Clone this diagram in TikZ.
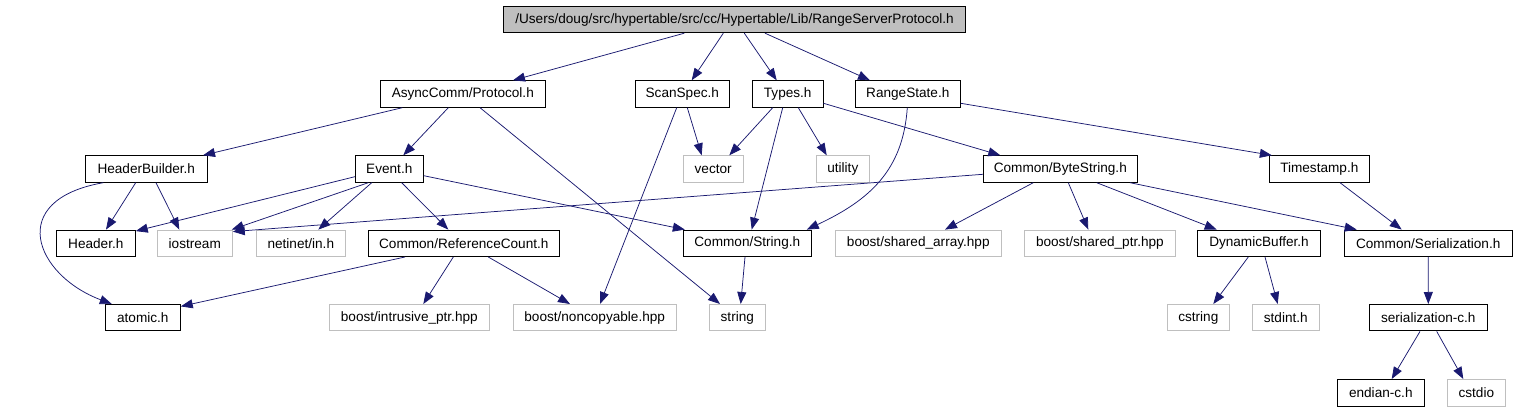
\documentclass[tikz,border=0pt]{standalone}
\usepackage{fontspec}
\setmainfont{Liberation Sans}
\usetikzlibrary{arrows.meta}
\definecolor{edgeblue}{RGB}{25,25,112}
\definecolor{sysgrey}{RGB}{191,191,191}
\tikzset{
  box/.style={draw=black, line width=0.9pt, minimum height=26.5pt, inner sep=0pt,
    font=\fontsize{13.6}{15}\selectfont},
  sys/.style={box, draw=sysgrey},
  rootbox/.style={box, fill=sysgrey},
  e/.style={draw=edgeblue, line width=0.75pt, -{Triangle[length=12pt,width=9pt]}}
}
\begin{document}
\begin{tikzpicture}[x=1pt,y=-1pt]
\useasboundingbox (0,0) rectangle (1517,411);
% row 1
\node[rootbox, minimum width=462.4pt] (root) at (734.5,19.5) {/Users/doug/src/hypertable/src/cc/Hypertable/Lib/RangeServerProtocol.h};
% row 2
\node[box, minimum width=165pt] (async) at (462.8,94) {AsyncComm/Protocol.h};
\node[box, minimum width=94pt] (scanspec) at (682.3,94) {ScanSpec.h};
\node[box, minimum width=70.7pt] (types) at (787.7,94) {Types.h};
\node[box, minimum width=105pt] (rangestate) at (907.8,94) {RangeState.h};
% row 3
\node[box, minimum width=122pt] (hb) at (146.3,169) {HeaderBuilder.h};
\node[box, minimum width=68pt] (event) at (389.3,169) {Event.h};
\node[sys, minimum width=60.3pt] (vector) at (713.2,169) {vector};
\node[sys, minimum width=53pt] (utility) at (842.8,169) {utility};
\node[box, minimum width=154pt] (bytestring) at (1060.3,169) {Common/ByteString.h};
\node[box, minimum width=100pt] (timestamp) at (1319.3,169) {Timestamp.h};
% row 4
\node[box, minimum width=79pt] (header) at (95.8,243.3) {Header.h};
\node[sys, minimum width=75pt] (iostream) at (194.8,243.3) {iostream};
\node[sys, minimum width=89pt] (netinet) at (300.8,243.3) {netinet/in.h};
\node[box, minimum width=191pt] (refcount) at (463.8,243.3) {Common/ReferenceCount.h};
\node[box, minimum width=128pt] (cstr) at (747.3,243.3) {Common/String.h};
\node[sys, minimum width=166pt] (sharedarray) at (918.3,243.3) {boost/shared\_array.hpp};
\node[sys, minimum width=151.7pt] (sharedptr) at (1099.9,243.3) {boost/shared\_ptr.hpp};
\node[box, minimum width=123.4pt] (dynbuf) at (1259,243.3) {DynamicBuffer.h};
\node[box, minimum width=168.3pt] (serial) at (1428.2,243.3) {Common/Serialization.h};
% row 5
\node[box, minimum width=75pt] (atomic) at (142.8,317.7) {atomic.h};
\node[sys, minimum width=160pt] (intrusive) at (409.3,317.7) {boost/intrusive\_ptr.hpp};
\node[sys, minimum width=162.7pt] (noncopy) at (594.7,317.7) {boost/noncopyable.hpp};
\node[sys, minimum width=56pt] (string) at (737.3,317.7) {string};
\node[sys, minimum width=62pt] (cstring) at (1198.3,317.7) {cstring};
\node[sys, minimum width=67pt] (stdint) at (1285.8,317.7) {stdint.h};
\node[box, minimum width=118pt] (serialc) at (1428.3,317.7) {serialization-c.h};
% row 6
\node[box, minimum width=87pt] (endian) at (1380.8,392.7) {endian-c.h};
\node[sys, minimum width=58pt] (cstdio) at (1476.3,392.7) {cstdio};

% edges from root
\draw[e] ([xshift=-50.2pt]root.south) -- ([xshift=50.2pt]async.north);
\draw[e] ([xshift=-11.2pt]root.south) -- ([xshift=9.4pt]scanspec.north);
\draw[e] ([xshift=9.8pt]root.south) -- ([xshift=-11pt]types.north);
\draw[e] ([xshift=30.5pt]root.south) -- ([xshift=-37.8pt]rangestate.north);
% AsyncComm/Protocol.h
\draw[e] ([xshift=-60.5pt]async.south) -- ([xshift=56.7pt]hb.north);
\draw[e] ([xshift=-14.5pt]async.south) -- ([xshift=14pt]event.north);
\draw[e] ([xshift=17.2pt]async.south) -- ([xshift=-17.3pt]string.north);
% ScanSpec.h
\draw[e] ([xshift=5pt]scanspec.south) -- ([xshift=-11.5pt]vector.north);
\draw[e] ([xshift=-5.6pt]scanspec.south) -- ([xshift=5.3pt]noncopy.north);
% Types.h
\draw[e] ([xshift=-15pt]types.south) -- ([xshift=16.1pt]vector.north);
\draw[e] ([xshift=-5pt]types.south) -- ([xshift=4.4pt]cstr.north);
\draw[e] ([xshift=10.6pt]types.south) -- ([xshift=-16.1pt]utility.north);
\draw[e] ([yshift=-9.3pt]types.east) -- ([xshift=-60pt]bytestring.north);
% RangeState.h
\draw[e] ([xshift=-0.5pt]rangestate.south) .. controls (903,170) and (870,200) .. ([xshift=-5pt]cstr.north east);
\draw[e] ([yshift=-9.3pt]rangestate.east) -- ([xshift=3pt]timestamp.north west);
% HeaderBuilder.h
\draw[e] ([xshift=-10.6pt]hb.south) -- ([xshift=10.2pt]header.north);
\draw[e] ([xshift=9.7pt]hb.south) -- ([xshift=-15.5pt]iostream.north);
\draw[e] ([xshift=-43pt]hb.south) .. controls (5,200) and (35,275) .. ([xshift=-31pt]atomic.north);
% Event.h
\draw[e] ([yshift=-7.7pt]event.west) -- ([yshift=-1.5pt]header.north east);
\draw[e] ([xshift=-21pt]event.south) -- ([xshift=-1pt]iostream.north east);
\draw[e] ([xshift=-17.6pt]event.south) -- ([xshift=17.5pt]netinet.north);
\draw[e] ([xshift=12.4pt]event.south) -- ([xshift=-15.5pt]refcount.north);
\draw[e] ([yshift=-6.7pt]event.east) -- ([xshift=2pt]cstr.north west);
% Common/ByteString.h
\draw[e] ([yshift=-5.3pt]bytestring.west) -- ([yshift=-2pt]iostream.north east);
\draw[e] ([xshift=-27pt]bytestring.south) -- ([xshift=26.7pt]sharedarray.north);
\draw[e] ([xshift=8pt]bytestring.south) -- ([xshift=-11.6pt]sharedptr.north);
\draw[e] ([xshift=36.4pt]bytestring.south) -- ([xshift=-42.3pt]dynbuf.north);
\draw[e] ([xshift=69.7pt]bytestring.south) -- ([xshift=-71.5pt]serial.north);
% Timestamp.h
\draw[e] ([xshift=20.7pt]timestamp.south) -- ([xshift=-26.5pt]serial.north);
% Common/ReferenceCount.h
\draw[e] ([xshift=-58.8pt]refcount.south) -- ([yshift=-2.4pt]atomic.north east);
\draw[e] ([xshift=-10.5pt]refcount.south) -- ([xshift=14pt]intrusive.north);
\draw[e] ([xshift=24.5pt]refcount.south) -- ([xshift=-24.7pt]noncopy.north);
% Common/String.h
\draw[e] ([xshift=-2.3pt]cstr.south) -- ([xshift=3.4pt]string.north);
% DynamicBuffer.h
\draw[e] ([xshift=-10.7pt]dynbuf.south) -- ([xshift=15pt]cstring.north);
\draw[e] ([xshift=6pt]dynbuf.south) -- ([xshift=-8.1pt]stdint.north);
% Common/Serialization.h
\draw[e] (serial.south) -- (serialc.north);
% serialization-c.h
\draw[e] ([xshift=-8.3pt]serialc.south) -- ([xshift=10.9pt]endian.north);
\draw[e] ([xshift=8.4pt]serialc.south) -- ([xshift=-13pt]cstdio.north);
\end{tikzpicture}
\end{document}
